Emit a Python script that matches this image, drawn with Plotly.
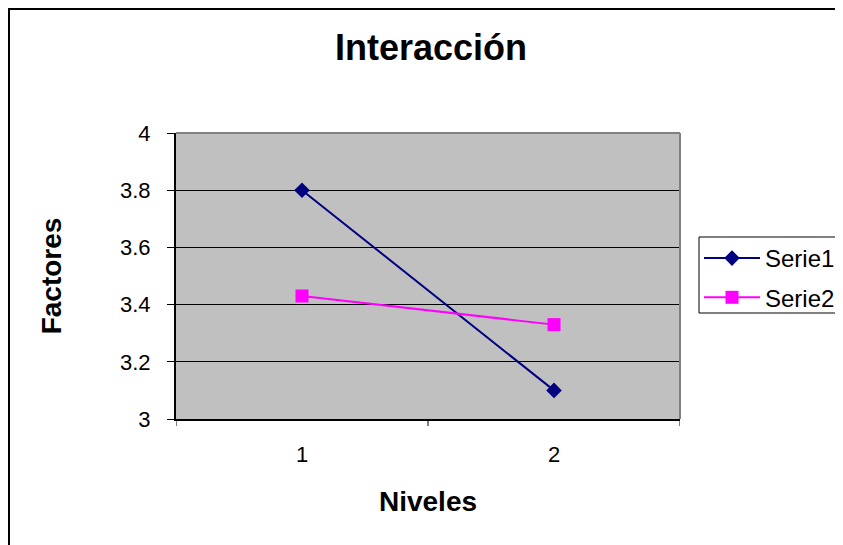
import plotly.graph_objects as go

niveles = [1, 2]
serie1 = [3.8, 3.1]
serie2 = [3.43, 3.33]
y_ticks = [3, 3.2, 3.4, 3.6, 3.8, 4]
y_labels = ["3", "3.2", "3.4", "3.6", "3.8", "4"]

OFF = 8  # default page body margin
W, H = 843 - OFF, 545 - OFF
# plot area in reference-image pixels, shifted into figure pixels
L, R, T, B = 176 - OFF, 680 - OFF, 133 - OFF, 419 - OFF
pw, ph = R - L, B - T


def px(x):
    return (x - OFF - L) / pw


def py(y):
    return (B - (y - OFF)) / ph


fig = go.Figure()
fig.add_trace(go.Scatter(x=niveles, y=serie1, name="Serie1", mode="lines+markers",
                         line=dict(color="#000080", width=2),
                         marker=dict(symbol="diamond", size=12, color="#000080"),
                         legendgroup="a"))
fig.add_trace(go.Scatter(x=niveles, y=serie2, name="Serie2", mode="lines+markers",
                         line=dict(color="#FF00FF", width=2),
                         marker=dict(symbol="square", size=13, color="#FF00FF"),
                         legendgroup="b"))

font = "Liberation Sans, Arial, sans-serif"
fig.update_layout(
    width=W, height=H,
    margin=dict(l=L, r=W - R, t=T, b=H - B, autoexpand=False),
    paper_bgcolor="white", plot_bgcolor="#C0C0C0",
    font=dict(family=font, size=22, color="black"),
    title=dict(text="<b>Interacción</b>", x=(431 - OFF) / W, xanchor="center",
               y=1 - (47 - OFF) / H, yanchor="middle", font=dict(size=36)),
    xaxis=dict(range=[0.5, 2.5], tickvals=niveles, ticktext=[str(v) for v in niveles],
               showgrid=False, zeroline=False, showline=True, linecolor="black", linewidth=2,
               ticks="", ticklabelstandoff=15,
               title=dict(text="<b>Niveles</b>", font=dict(size=28), standoff=25)),
    yaxis=dict(range=[3, 4], tickvals=y_ticks, ticktext=y_labels,
               showgrid=True, gridcolor="black", gridwidth=1, zeroline=False,
               showline=True, linecolor="black", linewidth=2,
               ticks="outside", ticklen=7, tickcolor="black", tickwidth=1,
               ticklabelstandoff=12,
               title=dict(text="<b>Factores</b>", font=dict(size=28), standoff=50)),
    legend=dict(x=px(699), y=py(236), xanchor="left", yanchor="top",
                borderwidth=0, bgcolor="rgba(0,0,0,0)",
                font=dict(size=24), tracegroupgap=5, itemwidth=56),
    showlegend=True,
)

# x tick marks at category boundaries
for xv in [0.5, 1.5, 2.5]:
    fig.add_shape(type="line", xref="x", yref="paper", x0=xv, x1=xv, y0=0, y1=-7 / ph,
                  line=dict(color="black", width=1))

# gray top and right plot border
fig.add_shape(type="line", xref="paper", yref="paper", x0=0, x1=1, y0=1, y1=1,
              line=dict(color="#808080", width=2))
fig.add_shape(type="line", xref="paper", yref="paper", x0=1, x1=1, y0=0, y1=1,
              line=dict(color="#808080", width=2))

# legend box
fig.add_shape(type="rect", xref="paper", yref="paper",
              x0=px(699), x1=px(860), y0=py(313), y1=py(237),
              line=dict(color="black", width=1), fillcolor="white", layer="below")

# outer chart frame
fig.add_shape(type="rect", xref="paper", yref="paper",
              x0=px(9), x1=px(900), y0=py(600), y1=py(9),
              line=dict(color="black", width=2), layer="below")

fig.write_html("out.html")
